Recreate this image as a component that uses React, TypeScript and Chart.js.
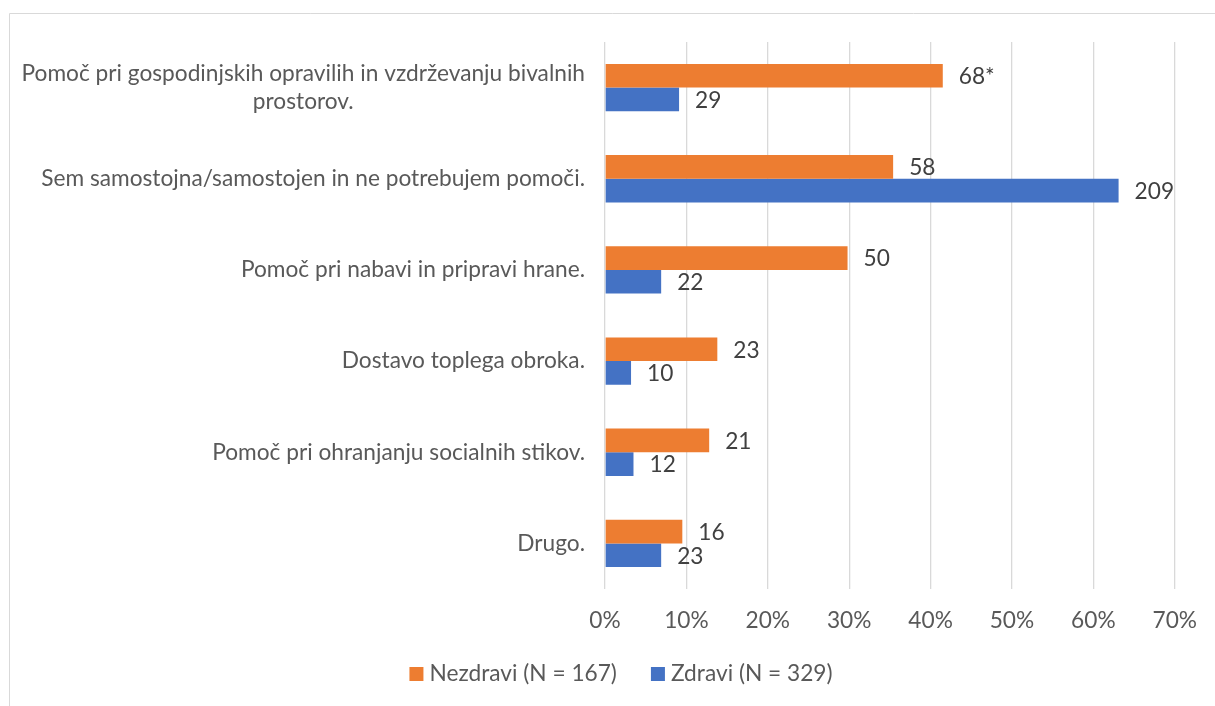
import React, { useEffect, useRef } from "react";
import { Chart, registerables } from "chart.js";

Chart.register(...registerables);

// ---- data ----
const categories: string[][] = [
  ["Pomoč pri gospodinjskih opravilih in vzdrževanju bivalnih", "prostorov."],
  ["Sem samostojna/samostojen in ne potrebujem pomoči."],
  ["Pomoč pri nabavi in pripravi hrane."],
  ["Dostavo toplega obroka."],
  ["Pomoč pri ohranjanju socialnih stikov."],
  ["Drugo."],
];
const seriesNames = ["Nezdravi (N = 167)", "Zdravi (N = 329)"];
const nezdraviPct = [41.5, 35.4, 29.8, 13.8, 12.8, 9.5];
const zdraviPct = [9.1, 63.1, 6.9, 3.2, 3.5, 6.9];
const nezdraviLabels = ["68*", "58", "50", "23", "21", "16"];
const zdraviLabels = ["29", "209", "22", "10", "12", "23"];
const xMin = 0;
const xMax = 70;
const xStep = 10;

// ---- styles ----
const FONT = "Lato";
const FONT_SIZE = 22.7;
const ORANGE = "#ED7D31";
const BLUE = "#4472C4";
const TEXT_GRAY = "#595959";
const TEXT_DARK = "#404040";
const GRID = "#d9d9d9";

const valueLabels = [nezdraviLabels, zdraviLabels];

const overlayPlugin = {
  id: "overlay",
  afterDraw(chart: any) {
    const ctx = chart.ctx as CanvasRenderingContext2D;
    const yScale = chart.scales.y;
    const area = chart.chartArea;
    ctx.save();

    // outer frame (top and left edges visible)
    ctx.strokeStyle = GRID;
    ctx.lineWidth = 1;
    ctx.beginPath();
    ctx.moveTo(9.5, chart.height);
    ctx.lineTo(9.5, 13.5);
    ctx.lineTo(chart.width, 13.5);
    ctx.stroke();

    // category labels
    ctx.font = `${FONT_SIZE}px ${FONT}`;
    ctx.fillStyle = TEXT_GRAY;
    ctx.textBaseline = "middle";
    const rightEdge = area.left - 20;
    const lineH = 28.5;
    categories.forEach((lines, i) => {
      const cy = yScale.getPixelForValue(i);
      if (lines.length === 1) {
        ctx.textAlign = "right";
        ctx.fillText(lines[0], rightEdge, cy);
      } else {
        const w = Math.max(...lines.map((l) => ctx.measureText(l).width));
        const cx = rightEdge - w / 2;
        ctx.textAlign = "center";
        lines.forEach((l, k) => {
          ctx.fillText(l, cx, cy + (k - (lines.length - 1) / 2) * lineH);
        });
      }
    });

    // value labels
    ctx.fillStyle = TEXT_DARK;
    ctx.textAlign = "left";
    chart.data.datasets.forEach((_ds: any, di: number) => {
      const meta = chart.getDatasetMeta(di);
      meta.data.forEach((bar: any, i: number) => {
        ctx.fillText(valueLabels[di][i], bar.x + 16, bar.y + 1);
      });
    });

    // legend
    const box = 14;
    const gapBoxText = 6;
    const gapItems = 34;
    const widths = seriesNames.map((n) => ctx.measureText(n).width);
    const total =
      widths.reduce((a, b) => a + b, 0) + seriesNames.length * (box + gapBoxText) + gapItems * (seriesNames.length - 1);
    let x = 621 - total / 2;
    const ly = 674;
    chart.data.datasets.forEach((ds: any, di: number) => {
      ctx.fillStyle = ds.backgroundColor;
      ctx.fillRect(x, ly - box / 2, box, box);
      x += box + gapBoxText;
      ctx.fillStyle = TEXT_GRAY;
      ctx.textAlign = "left";
      ctx.fillText(seriesNames[di], x, ly);
      x += widths[di] + gapItems;
    });

    ctx.restore();
  },
};

export default function App() {
  const ref = useRef<HTMLCanvasElement | null>(null);
  useEffect(() => {
    document.body.style.margin = "0";
    document.body.style.overflow = "hidden";
    const canvas = ref.current!;
    const chart = new Chart(canvas, {
      type: "bar",
      data: {
        labels: categories.map((c) => c.join(" ")),
        datasets: [
          {
            label: seriesNames[0],
            data: nezdraviPct,
            backgroundColor: ORANGE,
            borderWidth: 0,
            categoryPercentage: 0.52,
            barPercentage: 1,
          },
          {
            label: seriesNames[1],
            data: zdraviPct,
            backgroundColor: BLUE,
            borderWidth: 0,
            categoryPercentage: 0.52,
            barPercentage: 1,
          },
        ],
      },
      options: {
        indexAxis: "y",
        responsive: false,
        animation: false,
        layout: { padding: { left: 605, right: 40, top: 42, bottom: 0 } },
        plugins: {
          legend: { display: false },
          tooltip: { enabled: false },
        },
        scales: {
          x: {
            min: xMin,
            max: xMax,
            ticks: {
              stepSize: xStep,
              callback: (v: any) => `${v}%`,
              color: TEXT_GRAY,
              font: { family: FONT, size: FONT_SIZE },
              padding: 18,
            },
            grid: { color: GRID, lineWidth: 1.3, drawTicks: false },
            border: { display: false },
            afterFit: (scale: any) => {
              scale.height = 117;
            },
          },
          y: {
            display: false,
          },
        },
      },
      plugins: [overlayPlugin],
    });
    return () => chart.destroy();
  }, []);
  return <canvas ref={ref} width={1215} height={706} style={{ display: "block" }} />;
}
